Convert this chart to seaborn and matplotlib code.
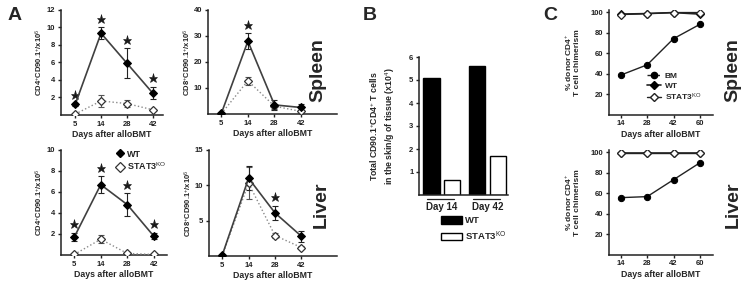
import numpy as np
import pandas as pd
import matplotlib
matplotlib.use('Agg')
import matplotlib.pyplot as plt
import matplotlib.transforms as mtransforms
from matplotlib.patches import Rectangle
from matplotlib.lines import Line2D
import seaborn as sns

sns.set_theme(style='ticks')
plt.rcParams['font.family'] = ['Liberation Sans', 'DejaVu Sans']
plt.rcParams['mathtext.fontset'] = 'custom'
plt.rcParams['mathtext.rm'] = 'Liberation Sans'
plt.rcParams['mathtext.it'] = 'Liberation Sans:italic'
plt.rcParams['mathtext.bf'] = 'Liberation Sans:bold'
plt.rcParams['axes.linewidth'] = 1.1
plt.rcParams['axes.edgecolor'] = '#222222'

# ---------------- data ----------------
days_A = ['5', '14', '28', '42']

spl_cd4_wt = [1.2, 9.3, 5.9, 2.5]
spl_cd4_wt_err = [0.15, 0.7, 1.7, 0.7]
spl_cd4_ko = [0.1, 1.6, 1.3, 0.6]
spl_cd4_ko_err = [0.05, 0.7, 0.4, 0.1]
spl_cd4_star = [0, 1, 2, 3]

spl_cd8_wt = [0.2, 28.0, 3.5, 2.5]
spl_cd8_wt_err = [0.2, 3.0, 2.0, 1.5]
spl_cd8_ko = [0.1, 12.8, 3.0, 1.0]
spl_cd8_ko_err = [0.1, 1.5, 1.0, 0.5]
spl_cd8_star = [1]

liv_cd4_wt = [1.7, 6.7, 4.8, 1.8]
liv_cd4_wt_err = [0.4, 0.8, 1.1, 0.3]
liv_cd4_ko = [0.05, 1.5, 0.15, 0.05]
liv_cd4_ko_err = [0.05, 0.4, 0.1, 0.05]
liv_cd4_star = [0, 1, 2, 3]

liv_cd8_wt = [0.1, 11.0, 6.1, 2.8]
liv_cd8_wt_err = [0.1, 1.7, 1.0, 0.8]
liv_cd8_ko = [0.05, 10.3, 2.9, 1.2]
liv_cd8_ko_err = [0.05, 2.3, 0.4, 0.2]
liv_cd8_star = [2]

days_B = ['Day 14', 'Day 42']
skin_wt = [5.1, 5.6]
skin_ko = [0.65, 1.7]

days_C = ['14', '28', '42', '60']
spl_chim_bm = [38.5, 48.5, 74.0, 88.0]
spl_chim_wt = [98.0, 98.5, 99.5, 98.0]
spl_chim_ko = [97.5, 98.5, 99.5, 99.5]
liv_chim_bm = [55.5, 56.5, 73.0, 89.5]
liv_chim_wt = [99.5, 99.5, 99.5, 99.5]
liv_chim_ko = [99.5, 99.5, 99.5, 99.5]

# ---------------- figure ----------------
W, H = 745, 286
fig = plt.figure(figsize=(W / 100, H / 100), dpi=100)


def px_axes(x0, x1, y0, y1):
    return fig.add_axes([x0 / W, 1 - y1 / H, (x1 - x0) / W, (y1 - y0) / H])


def style_axes(ax):
    sns.despine(ax=ax)
    ax.tick_params(axis='both', which='major', length=2.5, width=1.0,
                   labelsize=5.5, pad=1.5, colors='#222222')
    for lab in ax.get_xticklabels() + ax.get_yticklabels():
        lab.set_fontweight('bold')


KO_LAB = r'STAT3$^{\mathrm{KO}}$'


def line_panel(ax, wt, wt_err, ko, ko_err, stars, ylim, yticks, ylabel,
               xlim, ylab_x):
    x = np.arange(len(days_A))
    df = pd.DataFrame({'x': np.concatenate([x, x]),
                       'y': wt + ko,
                       'g': ['WT'] * len(x) + ['KO'] * len(x)})
    sns.lineplot(data=df[df.g == 'KO'], x='x', y='y', ax=ax, color='#8a8a8a',
                 lw=1.0, ls=':', marker='D', markersize=4.2,
                 markerfacecolor='white', markeredgecolor='#333333',
                 markeredgewidth=0.9, zorder=3)
    ax.errorbar(x, ko, yerr=ko_err, fmt='none', ecolor='#555555',
                elinewidth=0.8, capsize=2.5, capthick=0.8, zorder=2)
    sns.lineplot(data=df[df.g == 'WT'], x='x', y='y', ax=ax, color='#404040',
                 lw=1.2, marker='D', markersize=3.8, markerfacecolor='black',
                 markeredgecolor='black', zorder=4)
    ax.errorbar(x, wt, yerr=wt_err, fmt='none', ecolor='#222222',
                elinewidth=0.8, capsize=2.5, capthick=0.8, zorder=2)
    trans = mtransforms.offset_copy(ax.transData, fig=fig, y=8.5, units='dots')
    sx = [x[i] for i in stars]
    sy = [wt[i] + wt_err[i] for i in stars]
    ax.plot(sx, sy, ls='none', marker='*', markersize=6.8,
            markerfacecolor='#1a1a1a', markeredgecolor='#1a1a1a',
            markeredgewidth=0.4, transform=trans, clip_on=False)
    ax.set_xlim(*xlim)
    ax.set_ylim(*ylim)
    ax.set_xticks(x)
    ax.set_xticklabels(days_A)
    ax.set_yticks(yticks)
    ax.set_xlabel('Days after alloBMT', fontsize=6.3, fontweight='bold',
                  labelpad=2)
    ax.set_ylabel(ylabel, fontsize=5.5, fontweight='bold')
    ax.yaxis.set_label_coords(ylab_x, 0.5)
    style_axes(ax)


CD4_LAB = r'CD4$^{+}$CD90.1$^{+}$/x10$^{6}$'
CD8_LAB = r'CD8$^{+}$CD90.1$^{+}$/x10$^{6}$'

axA1 = px_axes(61, 163, 9.5, 115)
line_panel(axA1, spl_cd4_wt, spl_cd4_wt_err, spl_cd4_ko, spl_cd4_ko_err,
           spl_cd4_star, (0, 12), [2, 4, 6, 8, 10, 12], CD4_LAB,
           (-0.55, 3.4), -0.155)

axA2 = px_axes(208, 337, 10, 114)
line_panel(axA2, spl_cd8_wt, spl_cd8_wt_err, spl_cd8_ko, spl_cd8_ko_err,
           spl_cd8_star, (0, 40), [10, 20, 30, 40], CD8_LAB,
           (-0.5, 4.35), -0.12)

axA3 = px_axes(61, 167, 150, 255)
line_panel(axA3, liv_cd4_wt, liv_cd4_wt_err, liv_cd4_ko, liv_cd4_ko_err,
           liv_cd4_star, (0, 10), [2, 4, 6, 8, 10], CD4_LAB,
           (-0.5, 3.5), -0.15)

axA4 = px_axes(209, 337, 150, 256)
line_panel(axA4, liv_cd8_wt, liv_cd8_wt_err, liv_cd8_ko, liv_cd8_ko_err,
           liv_cd8_star, (0, 15), [5, 10, 15], CD8_LAB,
           (-0.5, 4.35), -0.12)

# legend for panel A
hA = [Line2D([], [], ls='none', marker='D', markersize=4.2, color='black'),
      Line2D([], [], ls='none', marker='D', markersize=4.6,
             markerfacecolor='white', markeredgecolor='#333333',
             markeredgewidth=0.9)]
legA = axA3.legend(hA, ['WT', KO_LAB], loc='center left',
                   bbox_to_anchor=(112 / W, 1 - 161 / H),
                   bbox_transform=fig.transFigure, frameon=False,
                   fontsize=6.5, handlelength=0.8, handletextpad=0.4,
                   labelspacing=0.25, borderpad=0)
for t in legA.get_texts():
    t.set_fontweight('bold')

# ---------------- panel B ----------------
axB = px_axes(419, 508, 57, 195)
dfB = pd.DataFrame({'day': days_B * 2,
                    'val': skin_wt + skin_ko,
                    'grp': ['WT'] * 2 + ['STAT3KO'] * 2})
sns.barplot(data=dfB, x='day', y='val', hue='grp', ax=axB,
            hue_order=['WT', 'STAT3KO'],
            palette={'WT': 'black', 'STAT3KO': 'white'},
            edgecolor='black', linewidth=1.0, width=0.9, gap=0.2,
            legend=False, errorbar=None)
axB.set_xlim(-0.5, 1.45)
axB.set_ylim(0, 6)
axB.set_yticks([1, 2, 3, 4, 5, 6])
axB.set_xlabel('')
axB.set_ylabel('Total CD90.1$^{+}$CD4$^{+}$ T cells\n'
               'in the skin/g of tissue (x10$^{4}$)',
               fontsize=6.3, fontweight='bold', linespacing=1.3)
axB.yaxis.set_label_coords(-0.25, 0.5)
style_axes(axB)
axB.tick_params(axis='x', length=0, pad=5, labelsize=7)
for lab in axB.get_xticklabels():
    lab.set_fontweight('bold')
btrans = mtransforms.blended_transform_factory(axB.transData, axB.transAxes)
for i in range(len(days_B)):
    axB.plot([i - 0.32, i + 0.27], [-0.03, -0.03], color='#222222', lw=0.9,
             transform=btrans, clip_on=False)

hB = [Rectangle((0, 0), 1, 1, facecolor='black', edgecolor='black', lw=1),
      Rectangle((0, 0), 1, 1, facecolor='white', edgecolor='black', lw=1)]
legB = fig.legend(hB, ['WT', KO_LAB], loc='center left',
                  bbox_to_anchor=(436 / W, 1 - 229.5 / H), frameon=False,
                  fontsize=6.8, handlelength=2.2, handleheight=0.8,
                  handletextpad=0.4, labelspacing=0.45, borderpad=0)
for t in legB.get_texts():
    t.set_fontweight('bold')

# ---------------- panel C ----------------
def chim_panel(ax, bm, wt, ko, legend=False):
    x = np.arange(len(days_C))
    sns.lineplot(x=x, y=bm, ax=ax, color='#222222', lw=1.0, marker='o',
                 markersize=4.5, markerfacecolor='black',
                 markeredgecolor='black', zorder=3)
    sns.lineplot(x=x, y=wt, ax=ax, color='#222222', lw=1.2, marker='D',
                 markersize=4.0, markerfacecolor='black',
                 markeredgecolor='black', zorder=3)
    sns.lineplot(x=x, y=ko, ax=ax, color='#222222', lw=1.0, marker='D',
                 markersize=4.3, markerfacecolor='white',
                 markeredgecolor='#222222', markeredgewidth=0.9, zorder=4)
    ax.set_xlim(-0.45, 3.5)
    ax.set_ylim(0, 102)
    ax.set_xticks(x)
    ax.set_xticklabels(days_C)
    ax.set_yticks([20, 40, 60, 80, 100])
    ax.set_xlabel('Days after alloBMT', fontsize=6.3, fontweight='bold',
                  labelpad=2)
    ax.set_ylabel('% donor CD4$^{+}$\nT cell chimerism', fontsize=6,
                  fontweight='bold', linespacing=1.0)
    ax.yaxis.set_label_coords(-0.27, 0.5)
    style_axes(ax)
    if legend:
        hC = [Line2D([], [], color='#222222', lw=1.0, ls='--', marker='o',
                     markersize=4.5, markerfacecolor='black',
                     markeredgecolor='black'),
              Line2D([], [], color='#222222', lw=1.2, marker='D',
                     markersize=4.0, markerfacecolor='black',
                     markeredgecolor='black'),
              Line2D([], [], color='#222222', lw=1.0, marker='D',
                     markersize=4.3, markerfacecolor='white',
                     markeredgecolor='#222222')]
        legC = ax.legend(hC, ['BM', 'WT', KO_LAB], loc='center left',
                         bbox_to_anchor=(643 / W, 1 - 87.5 / H),
                         bbox_transform=fig.transFigure, frameon=False,
                         fontsize=6, handlelength=1.6, handletextpad=0.5,
                         labelspacing=0.2, borderpad=0)
        for t in legC.get_texts():
            t.set_fontweight('bold')


axC1 = px_axes(609, 713, 10, 114.5)
chim_panel(axC1, spl_chim_bm, spl_chim_wt, spl_chim_ko, legend=True)
axC2 = px_axes(609, 713, 150, 254.5)
chim_panel(axC2, liv_chim_bm, liv_chim_wt, liv_chim_ko)

# ---------------- labels ----------------
for txt, x, y in [('A', 15, 15), ('B', 370, 15), ('C', 550, 15)]:
    fig.text(x / W, 1 - y / H, txt, fontsize=14, fontweight='bold',
             ha='center', va='center')
for txt, x, y in [('Spleen', 318, 70), ('Liver', 321, 205),
                  ('Spleen', 733, 70), ('Liver', 733, 205)]:
    fig.text(x / W, 1 - y / H, txt, fontsize=14, fontweight='bold',
             ha='center', va='center', rotation=90)

fig.savefig('out.png', dpi=100)
